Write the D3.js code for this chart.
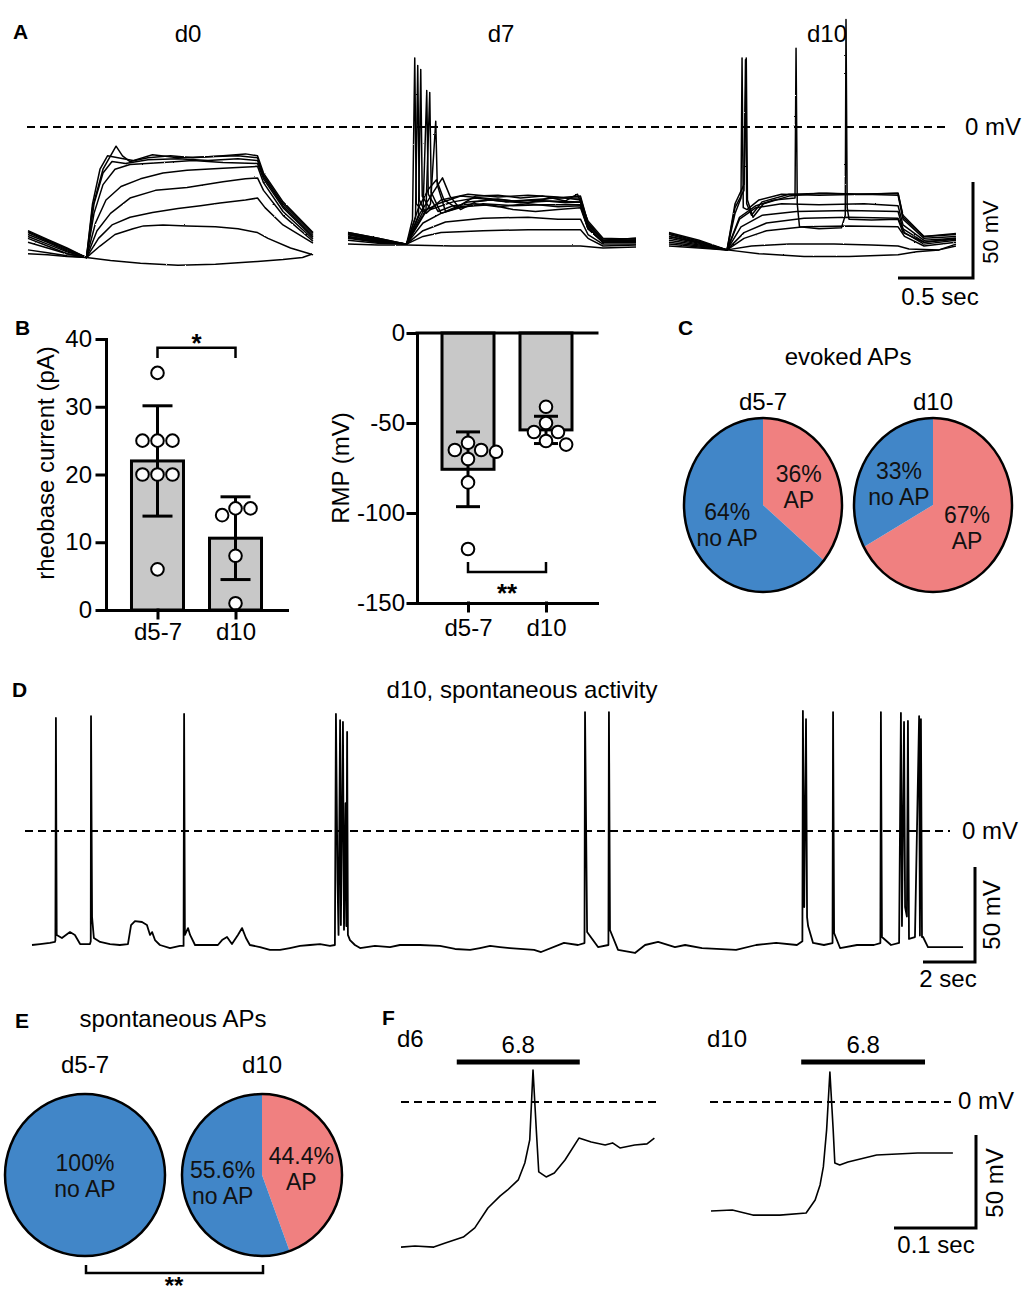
<!DOCTYPE html>
<html><head><meta charset="utf-8">
<script src="https://cdn.jsdelivr.net/npm/d3@7"></script>
<style>
body{margin:0;background:#fff}
svg{display:block}
text{font-family:"Liberation Sans",Arial,Helvetica,sans-serif;}
</style>
</head><body>
<script>
// ---------------- DATA ----------------
const panelLetters = ["A","B","C","D","E","F"];
const aTitles = ["d0","d7","d10"];
// Panel A traces: [time (s), membrane potential (mV)]
const d0Traces = [
 [[0,-66],[0.13,-66.5],[0.26,-67.5],[0.39,-68],[0.55,-69.5],[0.75,-71],[1.0,-72],[1.25,-71.5],[1.45,-70.5],[1.53,-70],[1.7,-69],[1.83,-68],[1.9,-66]],
 [[0,-64],[0.13,-65.5],[0.26,-67],[0.39,-68],[0.48,-62],[0.58,-56],[0.7,-53],[0.77,-51.5],[0.9,-51],[1.06,-51.5],[1.25,-52],[1.4,-53],[1.53,-55],[1.6,-58],[1.75,-63],[1.9,-66.5]],
 [[0,-60],[0.13,-63],[0.26,-66],[0.39,-68],[0.47,-58],[0.56,-51],[0.68,-47],[0.83,-44.5],[1.0,-42.5],[1.15,-41],[1.28,-39.6],[1.45,-38],[1.53,-37],[1.58,-42],[1.7,-51],[1.9,-60.5]],
 [[0,-58],[0.13,-62],[0.26,-66],[0.39,-68],[0.46,-54],[0.55,-45],[0.68,-37],[0.85,-33],[1.06,-31.5],[1.3,-28.5],[1.45,-27],[1.53,-26.5],[1.57,-33],[1.7,-46],[1.9,-59.5]],
 [[0,-57],[0.13,-61],[0.26,-65],[0.39,-68],[0.45,-50],[0.52,-38],[0.62,-31],[0.75,-27],[0.9,-24],[1.06,-22.5],[1.3,-21.5],[1.53,-20.5],[1.57,-29],[1.7,-44],[1.9,-58.5]],
 [[0,-56],[0.13,-60],[0.26,-64.5],[0.39,-68],[0.44,-45],[0.5,-30],[0.58,-22],[0.68,-19.5],[0.9,-18.5],[1.1,-17.5],[1.3,-18.5],[1.53,-19],[1.57,-27],[1.7,-42],[1.9,-57.5]],
 [[0,-55],[0.13,-59.5],[0.26,-64],[0.39,-68],[0.44,-40],[0.5,-24],[0.56,-18],[0.65,-19],[0.8,-17],[1.0,-16.5],[1.2,-17.5],[1.4,-16.5],[1.53,-17.5],[1.57,-26],[1.7,-41],[1.9,-56.5]],
 [[0,-54.5],[0.13,-59],[0.26,-63.5],[0.39,-68],[0.43,-40],[0.48,-22],[0.53,-15],[0.6,-16],[0.7,-17.5],[0.83,-14.5],[1.0,-16],[1.2,-15.5],[1.4,-15],[1.53,-16],[1.57,-25],[1.7,-40],[1.9,-55.5]],
 [[0,-54],[0.13,-58.5],[0.26,-63],[0.39,-68],[0.43,-42],[0.5,-22],[0.587,-10],[0.63,-15],[0.68,-18],[0.8,-16],[0.95,-15],[1.1,-16],[1.3,-15],[1.45,-14],[1.53,-15],[1.57,-24],[1.7,-39],[1.9,-55]]
];
const d7Traces = [
 [[0,-61],[0.2,-61.5],[0.39,-61.5],[0.7,-62],[1.0,-62],[1.3,-62],[1.55,-62],[1.7,-63],[1.92,-62.5]],
 [[0,-59],[0.2,-60.5],[0.39,-61],[0.5,-57],[0.62,-55],[0.9,-54],[1.2,-53.5],[1.55,-53.5],[1.6,-58],[1.7,-62],[1.92,-61.5]],
 [[0,-58],[0.2,-60],[0.39,-61],[0.5,-54],[0.65,-49.5],[0.9,-47.5],[1.2,-47],[1.4,-48],[1.55,-48],[1.6,-56],[1.7,-61],[1.92,-61]],
 [[0,-57],[0.2,-59.5],[0.39,-61],[0.5,-50],[0.62,-45],[0.75,-41.5],[0.95,-40.5],[1.1,-43],[1.25,-44],[1.4,-43],[1.55,-42],[1.6,-53],[1.7,-60],[1.92,-60]],
 [[0,-56],[0.2,-59],[0.39,-61],[0.48,-45],[0.56,-35],[0.63,-26.5],[0.68,-36],[0.75,-43],[0.85,-39],[1.0,-37.5],[1.2,-39.5],[1.35,-37],[1.55,-37],[1.6,-50],[1.7,-59],[1.92,-59]],
 [[0,-55.5],[0.2,-58.5],[0.39,-61],[0.47,-42],[0.54,-32],[0.59,-27.5],[0.64,-38],[0.72,-42],[0.85,-36],[1.0,-35.5],[1.15,-37],[1.3,-36],[1.45,-38.5],[1.53,-35],[1.6,-49],[1.7,-58],[1.92,-58.5]],
 [[0,-56],[0.2,-59],[0.39,-61],[0.43,-48],[0.445,36],[0.455,-40],[0.5,-44],[0.6,-40],[0.75,-36],[0.9,-37],[1.1,-38.5],[1.3,-37.5],[1.55,-36],[1.6,-50],[1.7,-59],[1.92,-58]],
 [[0,-55],[0.2,-58],[0.39,-61],[0.45,-47],[0.465,32],[0.475,-38],[0.52,-45],[0.62,-38],[0.8,-35],[1.0,-36.5],[1.2,-35.5],[1.4,-36.5],[1.55,-38],[1.6,-51],[1.7,-59],[1.92,-58]],
 [[0,-55],[0.2,-58],[0.39,-61],[0.47,-46],[0.485,30],[0.495,-36],[0.55,-43],[0.7,-39],[0.85,-37],[1.05,-39],[1.25,-38],[1.45,-39.5],[1.55,-39],[1.6,-52],[1.7,-60],[1.92,-59]],
 [[0,-56],[0.2,-59],[0.39,-61],[0.5,-44],[0.525,19],[0.535,-35],[0.6,-44],[0.7,-41],[0.85,-40],[1.0,-41.5],[1.2,-40],[1.4,-41.5],[1.55,-41],[1.6,-53],[1.7,-60],[1.92,-59.5]],
 [[0,-57],[0.2,-59.5],[0.39,-61],[0.52,-43],[0.545,18],[0.555,-34],[0.62,-45],[0.75,-42],[0.9,-40],[1.1,-41],[1.3,-40.5],[1.55,-40.5],[1.6,-53],[1.7,-60],[1.92,-60]],
 [[0,-57.5],[0.2,-60],[0.39,-61],[0.55,-40],[0.585,3],[0.595,-30],[0.65,-44],[0.8,-39],[0.95,-38],[1.15,-39.5],[1.35,-38.5],[1.55,-39],[1.6,-52],[1.7,-60],[1.92,-60]]
];
const d10Traces = [
 [[0,-62],[0.2,-63],[0.387,-64],[0.6,-66],[0.9,-67.5],[1.2,-67.5],[1.527,-66.5],[1.65,-65],[1.8,-64],[1.913,-62]],
 [[0,-61],[0.2,-62.5],[0.387,-64],[0.55,-62],[0.8,-61],[1.1,-61],[1.35,-61.5],[1.527,-62],[1.6,-63.5],[1.8,-64],[1.913,-61]],
 [[0,-60],[0.2,-62],[0.387,-64],[0.5,-58],[0.65,-54],[0.9,-52],[1.2,-51.5],[1.527,-52],[1.57,-57],[1.7,-62],[1.913,-60]],
 [[0,-59],[0.2,-61.5],[0.387,-64],[0.5,-55],[0.65,-50],[0.9,-47.5],[1.2,-47],[1.527,-47.5],[1.57,-55],[1.7,-61],[1.913,-59]],
 [[0,-58],[0.2,-61],[0.387,-64],[0.48,-52],[0.62,-46],[0.85,-44],[1.2,-43.5],[1.527,-44],[1.56,-53],[1.7,-60],[1.913,-58.5]],
 [[0,-57],[0.2,-60.5],[0.387,-64],[0.47,-48],[0.58,-42],[0.75,-40],[1.0,-40.5],[1.3,-40],[1.527,-41],[1.56,-51],[1.7,-59],[1.913,-58]],
 [[0,-57],[0.2,-60],[0.387,-64],[0.47,-47],[0.58,-41],[0.7,-38],[0.84,-37],[0.847,41],[0.855,-40],[0.87,-52],[1.0,-53],[1.15,-52.5],[1.175,-46],[1.18,56],[1.188,-42],[1.2,-48],[1.35,-48.5],[1.527,-48],[1.56,-55],[1.7,-60],[1.913,-58]],
 [[0,-56],[0.2,-60],[0.387,-64],[0.44,-45],[0.48,-37],[0.487,36],[0.495,-42],[0.52,-43],[0.6,-38],[0.75,-35],[1.0,-35.5],[1.3,-35],[1.527,-35.5],[1.56,-48],[1.7,-58],[1.913,-57]],
 [[0,-55.5],[0.2,-59.5],[0.387,-64],[0.44,-42],[0.5,-33],[0.51,35],[0.518,-40],[0.55,-46],[0.62,-39],[0.8,-35],[1.05,-34.5],[1.3,-35],[1.527,-34.5],[1.56,-47],[1.7,-57],[1.913,-56]],
 [[0,-55],[0.2,-59],[0.387,-64],[0.44,-40],[0.5,-30],[0.515,36],[0.523,-38],[0.56,-47],[0.63,-40],[0.8,-36],[1.0,-34.5],[1.25,-35],[1.527,-34.5],[1.56,-46],[1.7,-57],[1.913,-55.5]]
];

// Panel B
const groups = ["d5-7","d10"];
const rheobase = [[35,25,25,25,20,20,20,6],[15,15,14,8,1]];     // pA
const rmp = [[-61,-65,-70,-66,-65,-83,-120],[-41,-55,-62,-60,-50,-55]]; // mV
const rheoTicks = [0,10,20,30,40];
const rmpTicks = [0,-50,-100,-150];
const rheoSig = "*";
const rmpSig = "**";

// Panel C / E pies: [AP %, no AP %]
const evoked = [{label:"d5-7", ap:36, noap:64, apText:"36%", noapText:"64%"},
                {label:"d10", ap:67, noap:33, apText:"67%", noapText:"33%"}];
const spont  = [{label:"d5-7", ap:0, noap:100, apText:"", noapText:"100%"},
                {label:"d10", ap:44.4, noap:55.6, apText:"44.4%", noapText:"55.6%"}];
const spontSig = "**";

// Panel D trace: [time (s), mV]
const dTrace = [[0,-60],[0.31,-59.5],[0.69,-58.9],[0.88,-58.4],[0.9,-57.5],[0.92,59.5],[0.95,-54.7],[1.15,-56.3],[1.46,-53.2],[1.65,-54.7],[1.85,-59.5],[2.23,-59.5],[2.26,-58],[2.27,60.5],[2.31,-45.3],[2.38,-56.3],[2.62,-58.4],[3.0,-59.5],[3.38,-60],[3.69,-59.5],[3.81,-49.5],[3.96,-47.4],[4.23,-47.9],[4.42,-49.5],[4.54,-54.7],[4.62,-53.2],[4.73,-57.4],[4.92,-60],[5.31,-61.6],[5.69,-60.5],[5.83,-60.5],[5.85,61.6],[5.88,-54.7],[6.0,-51.1],[6.08,-54.7],[6.27,-60],[6.65,-60],[7.15,-60],[7.31,-57.4],[7.5,-55.8],[7.69,-59.5],[7.92,-54.7],[8.08,-51.1],[8.23,-56.3],[8.38,-60],[8.77,-61.1],[9.15,-62.6],[9.54,-62.6],[9.92,-61.6],[10.31,-60.5],[10.69,-60],[11.08,-59.5],[11.46,-60.5],[11.65,-60],[11.69,61.6],[11.75,-25.8],[11.79,-54.7],[11.85,58.4],[11.88,-49.5],[11.96,57.4],[12.0,-52],[12.06,14.7],[12.09,-50],[12.12,52.1],[12.15,-54.7],[12.23,-57.4],[12.42,-60],[12.62,-61.6],[13.19,-60.5],[13.77,-61.1],[14.15,-60],[14.92,-60],[15.69,-60.5],[16.27,-62.1],[16.85,-62.6],[17.23,-61.6],[17.62,-60.5],[18.0,-61.1],[18.38,-61.6],[19.31,-62.6],[19.58,-63.7],[20.46,-58.9],[21.0,-60],[21.25,-59],[21.27,62.6],[21.35,-53.2],[21.77,-61.1],[22.17,-60],[22.19,62.6],[22.23,-52.1],[22.54,-62.6],[23.19,-64.2],[23.58,-60],[24.08,-58.4],[24.73,-61.1],[25.12,-60],[25.77,-61.6],[27.08,-62.6],[27.85,-60],[28.62,-58.9],[29.42,-60],[29.63,-58],[29.65,63.2],[29.7,-40],[29.77,58.9],[29.81,-45.3],[29.85,-50],[30.04,-58.9],[30.46,-60],[30.79,-59],[30.81,62.6],[30.85,-53.7],[31.08,-61.6],[31.73,-60],[32.38,-60],[32.63,-59],[32.65,62.6],[32.69,-55.8],[33.04,-60],[33.35,-58.9],[33.42,62.1],[33.46,-50],[33.54,57.4],[33.58,-40],[33.65,-45],[33.69,57.9],[33.73,-56.8],[33.96,-55.8],[34.12,60.5],[34.15,-55],[34.19,58.9],[34.23,-55.8],[34.27,-55.8],[34.46,-61.1],[35.12,-61.1],[35.81,-61.1]];

// Panel F traces: [time (ms), mV]
const fD6 = [[0,-78],[17,-77.4],[40,-78],[54,-75.8],[76,-72.6],[90,-67.7],[106,-57],[121,-50.5],[130,-47.3],[143,-41.9],[151,-32.8],[157,-20.4],[161,17.2],[165,-15],[168,-37.6],[177,-40.3],[187,-38.2],[200,-31.2],[217,-19.4],[232,-21.5],[249,-23.1],[258,-22],[267,-24.7],[285,-23.1],[300,-22.5],[309,-19.4]];
const fD10 = [[0,-58.6],[26,-58.1],[51,-60.8],[84,-60.8],[116,-59.7],[127,-52.7],[133,-44.6],[137,-34.9],[141,-15],[145,16.1],[149,-15],[151,-32.8],[157,-33.9],[167,-32.3],[202,-28.5],[252,-27.4],[295,-27.4]];
const fStim = [{label:"d6", on:68, off:218, text:"6.8"},{label:"d10", on:110, off:261, text:"6.8"}];

// ---------------- DRAWING ----------------
const W = 1026, H = 1300;
const svg = d3.select("body").append("svg").attr("width",W).attr("height",H).attr("viewBox",`0 0 ${W} ${H}`);
const defs = svg.append("defs");
const filt = defs.append("filter").attr("id","jit").attr("x","-3%").attr("y","-10%").attr("width","106%").attr("height","120%");
filt.append("feTurbulence").attr("type","fractalNoise").attr("baseFrequency","0.9").attr("numOctaves",1).attr("seed",5).attr("result","n");
filt.append("feDisplacementMap").attr("in","SourceGraphic").attr("in2","n").attr("scale",1.8).attr("xChannelSelector","R").attr("yChannelSelector","G");

const BLUE = "#4186c8", RED = "#f08080", GREY = "#c8c8c8";
function T(sel, x, y, s, size, opt){
  opt = opt || {};
  return sel.append("text").attr("x",x).attr("y",y).attr("font-size",size||24)
    .attr("text-anchor",opt.anchor||"middle").attr("font-weight",opt.bold?"bold":null)
    .attr("fill",opt.fill||"#000").text(s);
}
function dashed(sel, x1, x2, y){
  sel.append("line").attr("x1",x1).attr("x2",x2).attr("y1",y).attr("y2",y)
    .attr("stroke","#000").attr("stroke-width",2).attr("stroke-dasharray","8,5");
}
function scaleBar(sel, xRight, yBottom, hLen, vLen){
  sel.append("path").attr("d",`M${xRight-hLen},${yBottom}H${xRight}V${yBottom-vLen}`)
    .attr("fill","none").attr("stroke","#000").attr("stroke-width",3).attr("stroke-linejoin","miter");
}
function rotText(sel, x, y, s, size){
  return sel.append("text").attr("transform",`translate(${x},${y}) rotate(-90)`).attr("font-size",size||24)
    .attr("text-anchor","middle").text(s);
}

// Panel letters
const letterPos = [[13,39],[15,335],[678,335],[12,697],[15,1028],[382,1025]];
panelLetters.forEach((l,i)=>T(svg, letterPos[i][0], letterPos[i][1], l, 21, {anchor:"start", bold:true}));

// ---- Panel A ----
const gA = svg.append("g");
const yA = d3.scaleLinear().domain([0,50]).range([127,31]);
const aPanels = [{traces:d0Traces, x0:28, tx:188},{traces:d7Traces, x0:348, tx:501},{traces:d10Traces, x0:669, tx:827}];
const lineA = gA.append("g").attr("filter","url(#jit)");
let xAref;
aPanels.forEach((p,i)=>{
  const xs = d3.scaleLinear().domain([0,1]).range([p.x0, p.x0+150]);
  xAref = xs;
  const line = d3.line().x(d=>xs(d[0])).y(d=>yA(d[1]));
  lineA.append("g").selectAll("path").data(p.traces).join("path")
    .attr("d",line).attr("fill","none").attr("stroke","#000").attr("stroke-width",1.5).attr("stroke-linejoin","round");
  T(gA, p.tx, 42, aTitles[i], 24);
});
dashed(gA, 27, 948, yA(0));
T(gA, 965, 135, "0 mV", 24, {anchor:"start"});
scaleBar(gA, 973, 278, xAref(0.5)-xAref(0), yA(0)-yA(50));
rotText(gA, 998, 232, "50 mV", 22);
T(gA, 940, 305, "0.5 sec", 24);

// ---- Panel B ----
function swarm(vals, yScale, sep){
  const placed = [];
  const sorted = vals.slice().sort((a,b)=>b-a);
  sorted.forEach(v=>{
    const y = yScale(v);
    const cands = [0];
    placed.forEach(p=>{ const dy=Math.abs(p.y-y); if(dy<sep){ const dx=Math.sqrt(sep*sep-dy*dy); cands.push(p.dx+dx, p.dx-dx);} });
    cands.sort((a,b)=>Math.abs(a)-Math.abs(b) || b-a);
    const ok = cands.find(c=>placed.every(p=>Math.hypot(p.dx-c,p.y-y)>=sep-0.01));
    placed.push({v, y, dx: ok});
  });
  return placed;
}
function barPanel(opt){
  const g = svg.append("g");
  const y = d3.scaleLinear().domain(opt.ydom).range(opt.yrange);
  const x = d3.scalePoint().domain(groups).range(opt.xrange).padding(opt.pad);
  const zero = y(0);
  groups.forEach((grp,i)=>{
    const vals = opt.data[i];
    const m = d3.mean(vals), sd = d3.deviation(vals);
    const cx = x(grp);
    g.append("rect").attr("x",cx-26).attr("width",52)
      .attr("y",Math.min(zero,y(m))).attr("height",Math.abs(zero-y(m)))
      .attr("fill",GREY).attr("stroke","#000").attr("stroke-width",3);
    const eb = g.append("g").attr("stroke","#000").attr("stroke-width",3);
    eb.append("line").attr("x1",cx).attr("x2",cx).attr("y1",y(m-sd)).attr("y2",y(m+sd));
    eb.append("line").attr("x1",cx-opt.cap).attr("x2",cx+opt.cap).attr("y1",y(m-sd)).attr("y2",y(m-sd));
    eb.append("line").attr("x1",cx-opt.cap).attr("x2",cx+opt.cap).attr("y1",y(m+sd)).attr("y2",y(m+sd));
  });
  groups.forEach((grp,i)=>{
    const pts = swarm(opt.data[i], y, 15);
    g.append("g").selectAll("circle").data(pts).join("circle")
      .attr("cx",d=>x(grp)+d.dx).attr("cy",d=>d.y).attr("r",6.3)
      .attr("fill","#fff").attr("stroke","#000").attr("stroke-width",2);
  });
  const ya = g.append("g").attr("transform",`translate(${opt.xrange[0]},0)`)
    .call(d3.axisLeft(y).tickValues(opt.ticks).tickFormat(d=>String(d)).tickSize(9).tickSizeOuter(0).tickPadding(opt.tpad));
  const xa = g.append("g").attr("transform",`translate(0,${opt.yrange[0]})`)
    .call(d3.axisBottom(x).tickSize(8).tickSizeOuter(0).tickPadding(opt.xpad));
  [ya,xa].forEach(a=>{
    a.selectAll("path,line").attr("stroke","#000").attr("stroke-width",3).attr("stroke-linecap","square");
    a.selectAll("text").attr("font-size",24).attr("font-family",'"Liberation Sans",Arial,sans-serif').attr("fill","#000");
  });
  if (opt.topLine){
    g.append("line").attr("x1",opt.xrange[0]).attr("x2",opt.xrange[1]).attr("y1",zero).attr("y2",zero)
      .attr("stroke","#000").attr("stroke-width",3).attr("stroke-linecap","square");
  }
  const x1 = x(groups[0]), x2 = x(groups[1]);
  const by = y(opt.sig.level), tk = y(opt.sig.tick);
  g.append("path").attr("d",`M${x1},${tk}V${by}H${x2}V${tk}`).attr("fill","none").attr("stroke","#000").attr("stroke-width",2.5);
  T(g, (x1+x2)/2, opt.sig.ty, opt.sig.text, 26, {bold:true});
  rotText(g, opt.lab[0], opt.lab[1], opt.label, 24);
}
barPanel({ydom:[0,40], yrange:[610,339], xrange:[106,287], pad:0.66, data:rheobase, ticks:rheoTicks,
  cap:15, tpad:5, xpad:5, sig:{level:38.7, tick:37.2, text:rheoSig, ty:352}, label:"rheobase current (pA)", lab:[54,463]});
barPanel({ydom:[-150,0], yrange:[603,333], xrange:[417,597], pad:0.654, data:rmp, ticks:rmpTicks,
  cap:12, tpad:3, xpad:8, topLine:true, sig:{level:-132.8, tick:-127.2, text:rmpSig, ty:602}, label:"RMP (mV)", lab:[349,468]});

// ---- Pies (C and E) ----
function pies(sel, data, centers, rx, ry, titleY){
  const pie = d3.pie().sort(null).value(d=>d.v);
  data.forEach((d,i)=>{
    const [cx,cy] = centers[i];
    const g = sel.append("g");
    const slices = pie([{k:"ap",v:d.ap},{k:"noap",v:d.noap}]);
    const arc = d3.arc().innerRadius(0).outerRadius(rx);
    g.append("g").attr("transform",`translate(${cx},${cy}) scale(1,${ry/rx})`)
      .selectAll("path").data(slices).join("path").attr("d",arc).attr("fill",s=>s.data.k==="ap"?RED:BLUE);
    g.append("ellipse").attr("cx",cx).attr("cy",cy).attr("rx",rx).attr("ry",ry)
      .attr("fill","none").attr("stroke","#000").attr("stroke-width",2.5);
    T(g, cx, titleY, d.label, 24);
    const lab = d3.arc().innerRadius(0).outerRadius(rx);
    slices.forEach(s=>{
      if (s.data.v<=0) return;
      let lx = 0, ly = 0;
      if (s.data.v < 100){ const c = lab.centroid(s); lx = c[0]; ly = c[1]*ry/rx; }
      const t1 = s.data.k==="ap" ? d.apText : d.noapText;
      const t2 = s.data.k==="ap" ? "AP" : "no AP";
      T(g, cx+lx, cy+ly-4, t1, 23, {fill:"#111"});
      T(g, cx+lx, cy+ly+22, t2, 23, {fill:"#111"});
    });
  });
}
const gC = svg.append("g");
T(gC, 848, 365, "evoked APs", 24);
pies(gC, evoked, [[763,505],[933,505]], 79, 87, 410);

const gE = svg.append("g");
T(gE, 173, 1027, "spontaneous APs", 24);
pies(gE, spont, [[85,1175],[262,1175]], 80, 81, 1073);
gE.append("path").attr("d","M86,1265V1273H263V1265").attr("fill","none").attr("stroke","#000").attr("stroke-width",2.5);
T(gE, 174, 1294, spontSig, 24, {bold:true});

// ---- Panel D ----
const gD = svg.append("g");
const yD = d3.scaleLinear().domain([0,50]).range([831,736]);
const xD = d3.scaleLinear().domain([0,1]).range([32,58]);
T(gD, 522, 698, "d10, spontaneous activity", 24);
dashed(gD, 25, 950, yD(0));
gD.append("path").attr("d", d3.line().x(d=>xD(d[0])).y(d=>yD(d[1]))(dTrace))
  .attr("fill","none").attr("stroke","#000").attr("stroke-width",1.8).attr("stroke-linejoin","round");
T(gD, 962, 839, "0 mV", 24, {anchor:"start"});
scaleBar(gD, 975, 962, xD(2)-xD(0), yD(0)-yD(50));
rotText(gD, 1000, 915, "50 mV", 24);
T(gD, 948, 987, "2 sec", 24);

// ---- Panel F ----
const gF = svg.append("g");
const yF = d3.scaleLinear().domain([0,50]).range([1102,1009]);
const fPanels = [{trace:fD6, x0:401, dash:[401,657], lx:397},{trace:fD10, x0:711, dash:[710,951], lx:707}];
fPanels.forEach((p,i)=>{
  const xs = d3.scaleLinear().domain([0,100]).range([p.x0, p.x0+82]);
  const st = fStim[i];
  T(gF, p.lx, 1047, st.label, 24, {anchor:"start"});
  gF.append("line").attr("x1",xs(st.on)).attr("x2",xs(st.off)).attr("y1",1062).attr("y2",1062)
    .attr("stroke","#000").attr("stroke-width",5);
  T(gF, (xs(st.on)+xs(st.off))/2, 1053, st.text, 24);
  dashed(gF, p.dash[0], p.dash[1], yF(0));
  gF.append("path").attr("d", d3.line().x(d=>xs(d[0])).y(d=>yF(d[1]))(p.trace))
    .attr("fill","none").attr("stroke","#000").attr("stroke-width",1.6).attr("stroke-linejoin","round");
});
T(gF, 958, 1109, "0 mV", 24, {anchor:"start"});
scaleBar(gF, 976, 1228, 82, yF(0)-yF(50));
rotText(gF, 1003, 1183, "50 mV", 24);
T(gF, 936, 1253, "0.1 sec", 24);
</script>
</body></html>
